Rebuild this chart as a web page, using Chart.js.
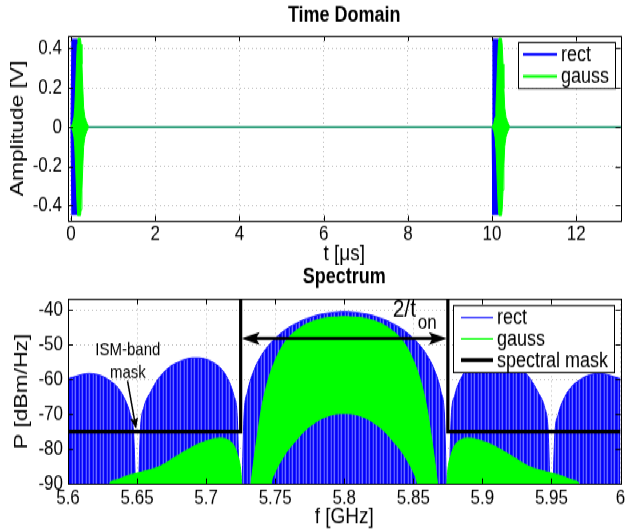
<!DOCTYPE html>
<html>
<head>
<meta charset="utf-8">
<script src="https://cdn.jsdelivr.net/npm/chart.js@4.4.0/dist/chart.umd.min.js"></script>
<style>
  html, body { margin: 0; padding: 0; background: #fff; }
  #page { position: relative; width: 625px; height: 532px; overflow: hidden; }
  /* the figure is drawn 1:1 horizontally and stretched vertically */
  #wrap { position: absolute; left: 0; top: 0; width: 625px; height: 443px; transform: scaleY(1.2); transform-origin: 0 0; }
  canvas { position: absolute; left: 0; }
  #timeChart { top: 0; }
  #specChart { top: 221px; }
</style>
</head>
<body>
<div id="page">
  <div id="wrap">
    <canvas id="timeChart" width="625" height="221"></canvas>
    <canvas id="specChart" width="625" height="222"></canvas>
  </div>
</div>
<script>
// ---- time domain: pulse envelopes (t in us, amplitude in V) ----
const rectT   = [0.00, 0.02, 0.15, 0.16, 10.00, 10.02, 10.15, 10.16, 13.1];
const rectAmp = [0, 0.445, 0.445, 0, 0, 0.445, 0.445, 0, 0];

const gaussT   = [0.00, 0.04, 0.07, 0.09, 0.11, 0.13, 0.15, 0.165, 0.225, 0.24, 0.26, 0.28, 0.30, 0.33, 0.37, 0.42,
                  10.00, 10.04, 10.07, 10.09, 10.11, 10.13, 10.15, 10.165, 10.225, 10.24, 10.26, 10.28, 10.30, 10.33, 10.37, 10.42, 13.1];
const gaussAmp = [0, 0.02, 0.05, 0.10, 0.20, 0.32, 0.42, 0.45, 0.45, 0.42, 0.32, 0.20, 0.10, 0.05, 0.025, 0,
                  0, 0.02, 0.05, 0.10, 0.20, 0.32, 0.42, 0.45, 0.45, 0.42, 0.32, 0.20, 0.10, 0.05, 0.025, 0, 0];

const timeTicks = [0, 2, 4, 6, 8, 10, 12];
const ampTicks  = [-0.4, -0.2, 0, 0.2, 0.4];

// ---- spectrum (f in GHz, P in dBm/Hz) ----
const rectF = [5.600, 5.605, 5.610, 5.615, 5.620, 5.625, 5.630, 5.635, 5.640, 5.645, 5.6475, 5.650, 5.6525,
               5.655, 5.660, 5.665, 5.670, 5.675, 5.680, 5.685, 5.690, 5.695, 5.700, 5.705, 5.710, 5.715, 5.720,
               5.7225, 5.725, 5.7275,
               5.730, 5.735, 5.740, 5.745, 5.750, 5.755, 5.760, 5.765, 5.770, 5.775, 5.780, 5.785, 5.790, 5.795, 5.800,
               5.805, 5.810, 5.815, 5.820, 5.825, 5.830, 5.835, 5.840, 5.845, 5.850, 5.855, 5.860, 5.865, 5.870,
               5.8725, 5.875, 5.8775,
               5.880, 5.885, 5.890, 5.895, 5.900, 5.905, 5.910, 5.915, 5.920, 5.925, 5.930, 5.935, 5.940, 5.945,
               5.9475, 5.950, 5.9525,
               5.955, 5.960, 5.965, 5.970, 5.975, 5.980, 5.985, 5.990, 5.995, 6.000];
const rectP = [-59.8, -59.2, -58.6, -58.3, -58.5, -59.1, -60.3, -61.9, -64.8, -70.0, -75.5, -100, -74,
               -68, -63.5, -60, -57.7, -56, -55, -54.2, -53.8, -53.8, -54.2, -55.1, -56.6, -59.3, -64.6,
               -70.5, -100, -70,
               -63.5, -57, -53.1, -50.3, -48.2, -46.4, -45, -43.9, -42.9, -42.2, -41.5, -41.1, -40.8, -40.6, -40.5,
               -40.6, -40.8, -41.1, -41.5, -42.2, -42.9, -43.9, -45, -46.4, -48.2, -50.3, -53.1, -57, -63.5,
               -70, -100, -70.5,
               -64.6, -59.3, -56.6, -55.1, -54.2, -53.8, -53.8, -54.2, -55, -56, -57.7, -60, -63.5, -68,
               -74, -100, -75.5,
               -70, -64.8, -61.9, -60.3, -59.1, -58.5, -58.3, -58.6, -59.2, -59.8];

const gaussF = [5.600, 5.625, 5.6275, 5.630, 5.635, 5.640, 5.645, 5.650, 5.655, 5.660, 5.665, 5.670, 5.675, 5.680,
                5.685, 5.690, 5.695, 5.700, 5.705, 5.710, 5.715, 5.720, 5.7225, 5.725, 5.7275,
                5.730, 5.7325, 5.735, 5.7375, 5.740, 5.745, 5.750, 5.755, 5.760, 5.765, 5.770, 5.775, 5.780, 5.785,
                5.790, 5.795, 5.800, 5.805, 5.810, 5.815, 5.820, 5.825, 5.830, 5.835, 5.840, 5.845, 5.850, 5.855,
                5.860, 5.8625, 5.865, 5.8675, 5.870,
                5.8725, 5.875, 5.8775, 5.880, 5.885, 5.890, 5.895, 5.900, 5.905, 5.910, 5.915, 5.920, 5.925, 5.930,
                5.935, 5.940, 5.945, 5.950, 5.955, 5.960, 5.965, 5.970, 5.9725, 5.975, 6.000];
const gaussP = [-100, -100, -95, -90, -89, -88.2, -87.5, -87, -86.5, -86, -85.3, -84.3, -83, -81.8,
                -80.6, -79.5, -78.5, -77.8, -77.2, -76.9, -77.3, -79, -81.5, -86, -100,
                -100, -90, -82, -75, -68.5, -60, -54.5, -50.5, -47.8, -46, -44.6, -43.6, -42.9, -42.4,
                -42.1, -42, -41.9, -42, -42.1, -42.4, -42.9, -43.6, -44.6, -46, -47.8, -50.5, -54.5, -60,
                -68.5, -75, -82, -90, -100,
                -100, -86, -81.5, -79, -77.3, -76.9, -77.2, -77.8, -78.5, -79.5, -80.6, -81.8, -83, -84.3,
                -85.3, -86, -86.5, -87, -87.5, -88.2, -89, -90, -95, -100, -100];

// lower edge of the gauss main lobe (rect shows through underneath)
const gaussInnerF = [5.600, 5.745, 5.7475, 5.750, 5.755, 5.760, 5.765, 5.770, 5.775, 5.780, 5.785, 5.790, 5.795, 5.800,
                     5.805, 5.810, 5.815, 5.820, 5.825, 5.830, 5.835, 5.840, 5.845, 5.850, 5.8525, 5.855, 6.000];
const gaussInnerP = [-100, -100, -90, -87, -83.2, -80.2, -77.8, -75.5, -73.7, -72.3, -71.2, -70.5, -70.1, -70,
                     -70.1, -70.5, -71.2, -72.3, -73.7, -75.5, -77.8, -80.2, -83.2, -87, -90, -100, -100];

const maskF = [5.600, 5.725, 5.725, 5.875, 5.875, 6.000];
const maskP = [-75, -75, -20, -20, -75, -75];

const freqTicks  = [5.6, 5.65, 5.7, 5.75, 5.8, 5.85, 5.9, 5.95, 6];
const powerTicks = [-90, -80, -70, -60, -50, -40];

// annotation anchors (data units)
const bandArrowP = -48.2;
const bandLabel = { f: 5.8435, p: -40.0 };
const bandSub   = { f: 5.860,  p: -43.7 };
const ismLabel  = { f: 5.6433, p1: -51.5, p2: -58.0 };
const ismArrow  = { f0: 5.6431, p0: -60.4, f1: 5.6493, p1: -74.3 };

const FONT = "'Liberation Sans', Arial, Helvetica, sans-serif";
Chart.defaults.font.family = FONT;
Chart.defaults.color = '#000';

const pts = (xs, ys) => xs.map((x, i) => ({ x: x, y: ys[i] }));
const BASE_COLOR = '#33a07e';
const onZero = c => c.p0.parsed.y === 0 && c.p1.parsed.y === 0;
const zeroSeg = {
    borderColor: c => onZero(c) ? BASE_COLOR : undefined,
    borderWidth: c => onZero(c) ? 1.6 : undefined
};

// box around the axes plus inward tick marks
const axesBox = {
    id: 'axesBox',
    afterDatasetsDraw(chart, args, opts) {
        const { ctx, chartArea: a, scales } = chart;
        ctx.save();
        ctx.strokeStyle = '#000';
        ctx.lineWidth = 1;
        ctx.beginPath();
        scales.x.ticks.forEach(t => {
            const px = Math.round(scales.x.getPixelForValue(t.value)) + 0.5;
            ctx.moveTo(px, a.bottom); ctx.lineTo(px, a.bottom - opts.tickX);
            ctx.moveTo(px, a.top); ctx.lineTo(px, a.top + opts.tickX);
        });
        scales.y.ticks.forEach(t => {
            const py = Math.round(scales.y.getPixelForValue(t.value)) + 0.5;
            ctx.moveTo(a.left, py); ctx.lineTo(a.left + opts.tickY, py);
            ctx.moveTo(a.right, py); ctx.lineTo(a.right - opts.tickY, py);
        });
        ctx.stroke();
        ctx.strokeRect(Math.round(a.left) + 0.5, Math.round(a.top) + 0.5,
                       Math.round(a.width), Math.round(a.height));
        ctx.restore();
    }
};

// title centred over the plot area
const panelTitle = {
    id: 'panelTitle',
    afterDraw(chart, args, opts) {
        const { ctx, chartArea: a } = chart;
        ctx.save();
        ctx.font = 'bold 18px ' + FONT;
        ctx.fillStyle = '#000';
        ctx.textAlign = 'center';
        ctx.textBaseline = 'middle';
        ctx.fillText(opts.text, (a.left + a.right) / 2, opts.y);
        ctx.restore();
    }
};

// boxed legend inside the axes
const boxLegend = {
    id: 'boxLegend',
    afterDraw(chart, args, opts) {
        const ctx = chart.ctx;
        ctx.save();
        ctx.fillStyle = '#fff';
        ctx.fillRect(opts.x, opts.y, opts.w, opts.h);
        ctx.strokeStyle = '#000';
        ctx.lineWidth = 1;
        ctx.strokeRect(opts.x + 0.5, opts.y + 0.5, opts.w, opts.h);
        ctx.font = '18px ' + FONT;
        ctx.textBaseline = 'middle';
        opts.entries.forEach((idx, i) => {
            const ds = chart.data.datasets[idx];
            const y = opts.y + opts.first + i * opts.step;
            ctx.strokeStyle = ds.borderColor;
            ctx.lineWidth = ds.legendWidth;
            ctx.beginPath();
            ctx.moveTo(opts.x + opts.line0, y);
            ctx.lineTo(opts.x + opts.line1, y);
            ctx.stroke();
            ctx.fillStyle = '#000';
            ctx.fillText(ds.label, opts.x + opts.text, y + 0.8);
        });
        ctx.restore();
    }
};

function arrowHead(ctx, x, y, angle, len, half) {
    ctx.save();
    ctx.translate(x, y);
    ctx.rotate(angle);
    ctx.beginPath();
    ctx.moveTo(0, 0);
    ctx.lineTo(-len, -half);
    ctx.lineTo(-len * 0.8, 0);
    ctx.lineTo(-len, half);
    ctx.closePath();
    ctx.fill();
    ctx.restore();
}

// 2/t_on arrow and ISM-band mask note
const spectrumNotes = {
    id: 'spectrumNotes',
    afterDatasetsDraw(chart) {
        const { ctx, scales: { x, y } } = chart;
        ctx.save();
        ctx.fillStyle = '#000';
        ctx.strokeStyle = '#000';

        const xa = x.getPixelForValue(maskF[1]);
        const xb = x.getPixelForValue(maskF[3]);
        const ya = y.getPixelForValue(bandArrowP);
        ctx.lineWidth = 2.4;
        ctx.beginPath();
        ctx.moveTo(xa + 12, ya);
        ctx.lineTo(xb - 12, ya);
        ctx.stroke();
        arrowHead(ctx, xa + 1, ya, Math.PI, 18, 5.4);
        arrowHead(ctx, xb - 1, ya, 0, 18, 5.4);

        ctx.textAlign = 'center';
        ctx.textBaseline = 'middle';
        ctx.font = '21px ' + FONT;
        ctx.fillText('2/t', x.getPixelForValue(bandLabel.f), y.getPixelForValue(bandLabel.p));
        ctx.font = '17px ' + FONT;
        ctx.fillText('on', x.getPixelForValue(bandSub.f), y.getPixelForValue(bandSub.p));

        ctx.font = '15px ' + FONT;
        ctx.fillText('ISM-band', x.getPixelForValue(ismLabel.f), y.getPixelForValue(ismLabel.p1));
        ctx.fillText('mask', x.getPixelForValue(ismLabel.f), y.getPixelForValue(ismLabel.p2));

        const x0 = x.getPixelForValue(ismArrow.f0), y0 = y.getPixelForValue(ismArrow.p0);
        const x1 = x.getPixelForValue(ismArrow.f1), y1 = y.getPixelForValue(ismArrow.p1);
        const ang = Math.atan2(y1 - y0, x1 - x0);
        ctx.lineWidth = 1.5;
        ctx.beginPath();
        ctx.moveTo(x0, y0);
        ctx.lineTo(x1 - 7 * Math.cos(ang), y1 - 7 * Math.sin(ang));
        ctx.stroke();
        arrowHead(ctx, x1, y1, ang, 9.5, 4);
        ctx.restore();
    }
};

function fixedAxis(size, horizontal) {
    return scale => {
        if (horizontal) scale.height = size; else scale.width = size;
        scale.paddingLeft = 0; scale.paddingRight = 0;
        scale.paddingTop = 0; scale.paddingBottom = 0;
    };
}

const gridStyle = { color: '#b8b8b8', lineWidth: 1, drawTicks: false };
const noBorder = { display: false, dash: [1, 3] };

// ---------------- Time Domain ----------------
new Chart(document.getElementById('timeChart').getContext('2d'), {
    type: 'line',
    data: {
        datasets: [
            {
                label: 'gauss',
                data: pts(gaussT, gaussAmp),
                borderColor: '#00ff00',
                backgroundColor: '#00ff00',
                borderWidth: 1,
                pointRadius: 0,
                fill: 1,
                segment: zeroSeg,
                legendWidth: 2.2
            },
            {
                label: 'gauss lower',
                data: pts(gaussT, gaussAmp.map(a => -a)),
                borderColor: '#00ff00',
                borderWidth: 1,
                pointRadius: 0,
                fill: false,
                segment: zeroSeg
            },
            {
                label: 'rect',
                data: pts(rectT, rectAmp),
                borderColor: '#0000ff',
                backgroundColor: '#0000ff',
                borderWidth: 1,
                pointRadius: 0,
                fill: 3,
                segment: zeroSeg,
                legendWidth: 2.2
            },
            {
                label: 'rect lower',
                data: pts(rectT, rectAmp.map(a => -a)),
                borderColor: '#0000ff',
                borderWidth: 1,
                pointRadius: 0,
                fill: false,
                segment: zeroSeg
            }
        ]
    },
    options: {
        responsive: false,
        animation: false,
        events: [],
        layout: { padding: { top: 30, right: 4.5, bottom: 0, left: 0 } },
        plugins: {
            legend: { display: false },
            tooltip: { enabled: false },
            panelTitle: { text: 'Time Domain', y: 12.9 },
            boxLegend: { x: 518, y: 35, w: 97, h: 38.3, first: 10.4, step: 18.3, line0: 5, line1: 39, text: 43, entries: [2, 0] },
            axesBox: { tickX: 4.2, tickY: 5 }
        },
        scales: {
            x: {
                type: 'linear',
                min: -0.071,
                max: 13.05,
                grid: gridStyle,
                border: noBorder,
                afterFit: fixedAxis(37.1, true),
                afterBuildTicks: s => { s.ticks = timeTicks.map(v => ({ value: v })); },
                ticks: { font: { size: 17 }, padding: 1, maxRotation: 0, autoSkip: false, callback: v => String(v) },
                title: { display: true, text: 't [\u03bcs]', font: { size: 19, lineHeight: 1 }, padding: { top: 0, bottom: 0 } }
            },
            y: {
                type: 'linear',
                min: -0.476,
                max: 0.4626,
                grid: gridStyle,
                border: noBorder,
                afterFit: fixedAxis(68, false),
                afterBuildTicks: s => { s.ticks = ampTicks.map(v => ({ value: v })); },
                ticks: { font: { size: 17 }, padding: 6, callback: v => String(v) },
                title: { display: true, text: 'Amplitude [V]', font: { size: 19, lineHeight: 1 }, padding: { top: 8.5, bottom: 0 } }
            }
        }
    },
    plugins: [axesBox, boxLegend, panelTitle]
});

// ---------------- Spectrum ----------------
const specCtx = document.getElementById('specChart').getContext('2d');

function stripePattern(ctx, colors) {
    const c = document.createElement('canvas');
    c.width = colors.length;
    c.height = 1;
    const g = c.getContext('2d');
    colors.forEach((col, i) => { g.fillStyle = col; g.fillRect(i, 0, 1, 1); });
    return ctx.createPattern(c, 'repeat');
}
const rectFill = stripePattern(specCtx, ['#0000ff', '#1e1eff', '#5858ff', '#0606f2', '#2a2aff', '#6a6aff', '#0c0cf8']);

new Chart(specCtx, {
    type: 'line',
    data: {
        datasets: [
            {
                label: 'spectral mask',
                data: pts(maskF, maskP),
                borderColor: '#000000',
                borderWidth: 3.2,
                pointRadius: 0,
                fill: false,
                legendWidth: 3.4
            },
            {
                label: 'gauss',
                data: pts(gaussF, gaussP),
                borderColor: '#00ff00',
                backgroundColor: '#00ff00',
                borderWidth: 1,
                pointRadius: 0,
                fill: 2,
                cubicInterpolationMode: 'monotone',
                legendWidth: 1.1
            },
            {
                label: 'gauss inner',
                data: pts(gaussInnerF, gaussInnerP),
                borderColor: 'rgba(0,0,0,0)',
                borderWidth: 0,
                pointRadius: 0,
                fill: false,
                cubicInterpolationMode: 'monotone'
            },
            {
                label: 'rect',
                data: pts(rectF, rectP),
                borderColor: '#1414ff',
                backgroundColor: rectFill,
                borderWidth: 1,
                pointRadius: 0,
                fill: 'start',
                cubicInterpolationMode: 'monotone',
                legendWidth: 1.1
            }
        ]
    },
    options: {
        responsive: false,
        animation: false,
        events: [],
        layout: { padding: { top: 28.4, right: 4.5, bottom: 0, left: 0 } },
        plugins: {
            legend: { display: false },
            tooltip: { enabled: false },
            panelTitle: { text: 'Spectrum', y: 10.4 },
            boxLegend: { x: 453, y: 33.2, w: 161, h: 55.8, first: 10.4, step: 17.75, line0: 8, line1: 40, text: 44, entries: [3, 1, 0] },
            axesBox: { tickX: 4.2, tickY: 5 }
        },
        scales: {
            x: {
                type: 'linear',
                min: 5.6,
                max: 6.0,
                grid: gridStyle,
                border: noBorder,
                afterFit: fixedAxis(40.1, true),
                afterBuildTicks: s => { s.ticks = freqTicks.map(v => ({ value: v })); },
                ticks: { font: { size: 17 }, padding: 1.9, maxRotation: 0, autoSkip: false, callback: v => String(v) },
                title: { display: true, text: 'f [GHz]', font: { size: 19, lineHeight: 1 }, padding: { top: 0, bottom: 2.9 } }
            },
            y: {
                type: 'linear',
                min: -90,
                max: -36.9,
                grid: gridStyle,
                border: noBorder,
                afterFit: fixedAxis(68, false),
                afterBuildTicks: s => { s.ticks = powerTicks.map(v => ({ value: v })); },
                ticks: { font: { size: 17 }, padding: 5, callback: v => String(v) },
                title: { display: true, text: 'P [dBm/Hz]', font: { size: 19, lineHeight: 1 }, padding: { top: 12.5, bottom: 0 } }
            }
        }
    },
    plugins: [axesBox, spectrumNotes, boxLegend, panelTitle]
});
</script>
</body>
</html>
